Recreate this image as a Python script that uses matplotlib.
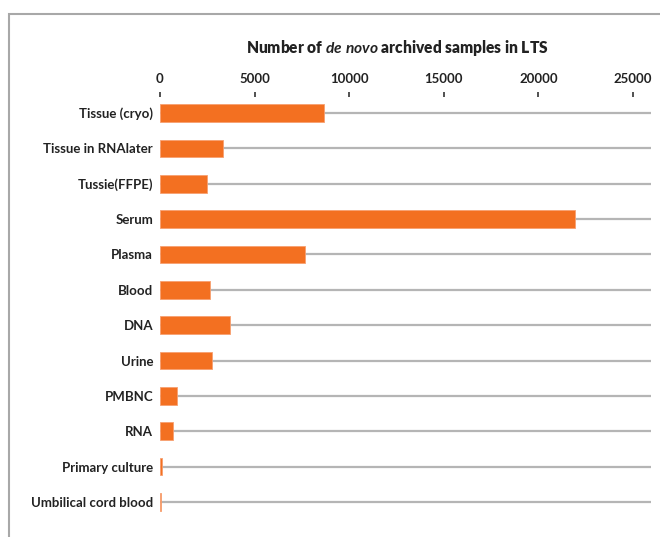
import matplotlib
matplotlib.use("Agg")
import matplotlib.pyplot as plt
from matplotlib.patches import Rectangle

categories = ["Tissue (cryo)", "Tissue in RNAlater", "Tussie(FFPE)", "Serum", "Plasma",
              "Blood", "DNA", "Urine", "PMBNC", "RNA", "Primary culture", "Umbilical cord blood"]
values = [8650, 3350, 2480, 21950, 7680, 2650, 3720, 2750, 900, 700, 80, 50]
xticks = [0, 5000, 10000, 15000, 20000, 25000]

plt.rcParams['font.family'] = ['Lato', 'DejaVu Sans']
plt.rcParams['mathtext.fontset'] = 'custom'
plt.rcParams['mathtext.rm'] = 'Lato:bold'
plt.rcParams['mathtext.it'] = 'Lato:italic:bold'
plt.rcParams['mathtext.bf'] = 'Lato:bold'

W, H = 660, 537
fig = plt.figure(figsize=(W/100, H/100), dpi=100)

# outer frame (cropped at right/bottom)
fig.patches.append(Rectangle((9/W, -0.1), 1.2, 1.1 - 14/H, transform=fig.transFigure,
                             fill=False, edgecolor='#a8a8a8', linewidth=1.5))

top_px, bot_px = 97.1, 519.7
ax = fig.add_axes([160/W, 1 - bot_px/H, (651-160)/W, (bot_px-top_px)/H])

xmax = 25950
ys = list(range(len(categories)))
for y in ys:
    ax.plot([0, xmax], [y, y], color='#b5b5b5', linewidth=1.6, zorder=1, solid_capstyle='butt')
ax.barh(ys, values, height=0.5, color='#F37021', edgecolor='#F7A070', linewidth=0.6, zorder=2)

ax.set_xlim(0, xmax)
ax.set_ylim(11.5, -0.45)
ax.set_yticks(ys)
ax.set_yticklabels(categories, fontsize=9.5, fontweight='bold', color='#222222')
ax.set_xticks(xticks)
ax.set_xticklabels([str(t) for t in xticks], fontsize=9.5, fontweight='bold', color='#222222')
ax.xaxis.tick_top()
ax.tick_params(axis='x', length=3.5, width=1.2, color='#333333', pad=5, direction='out')
ax.tick_params(axis='y', length=0, pad=5)
for s in ax.spines.values():
    s.set_visible(False)

fig.text(397/W, 1 - 48/H, r"Number of $\it{de\ novo}$ archived samples in LTS",
         ha='center', va='center', fontsize=11.2, fontweight='heavy', color='#222222')

fig.savefig("out.png", dpi=100)
